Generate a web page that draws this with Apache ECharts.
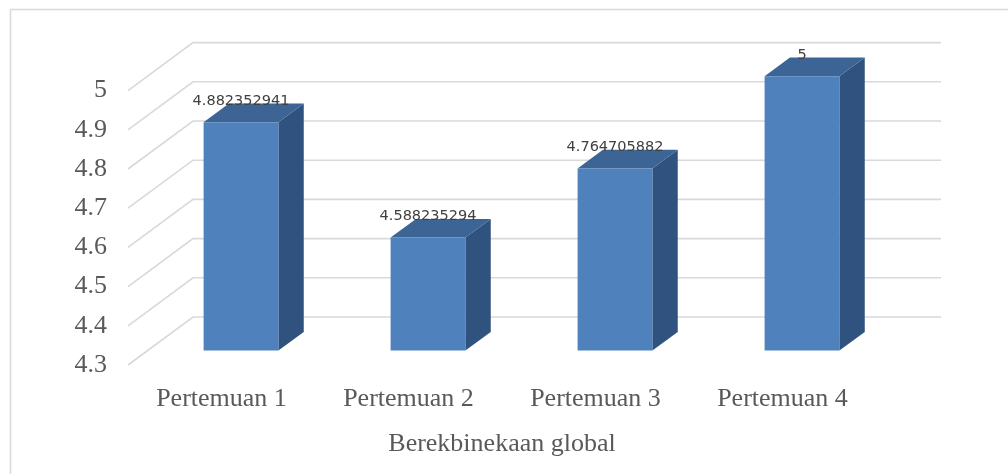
<!DOCTYPE html>
<html>
<head>
<meta charset="utf-8">
<title>Berekbinekaan global</title>
<script src="https://cdn.jsdelivr.net/npm/echarts@6/dist/echarts.min.js"></script>
<style>
  html, body { margin: 0; padding: 0; background: #ffffff; }
  #chart { width: 1008px; height: 474px; }
</style>
</head>
<body>
<div id="chart"></div>
<script>
// Meeting categories and their average scores
const categories = ['Pertemuan 1', 'Pertemuan 2', 'Pertemuan 3', 'Pertemuan 4'];
const scores = [4.882352941, 4.588235294, 4.764705882, 5];
// Value-axis ticks (also used for the 3D wall gridlines)
const tickValues = [4.3, 4.4, 4.5, 4.6, 4.7, 4.8, 4.9, 5];
const axisTitle = 'Berekbinekaan global';

// Oblique projection of the chart depth
const DEPTH_X = 65;
const DEPTH_Y = -48;
// Bars occupy this slice of the depth (0 = front, 1 = back wall)
const BAR_FRONT = 0.3;
const BAR_BACK = 0.69;

const serif = 'Liberation Serif';
const textGray = '#595959';

const chart = echarts.init(document.getElementById('chart'), null, { renderer: 'canvas' });

function renderGridLine(params, api) {
  const cs = params.coordSys;
  const y = api.coord([0, api.value(1)])[1];
  const x0 = cs.x;
  const x1 = cs.x + cs.width;
  return {
    type: 'polyline',
    shape: { points: [[x0, y], [x0 + DEPTH_X, y + DEPTH_Y], [x1 + DEPTH_X, y + DEPTH_Y]] },
    style: { stroke: '#d9d9d9', lineWidth: 1.6, fill: null }
  };
}

function renderBar(params, api) {
  const idx = api.value(0);
  const val = api.value(1);
  const top = api.coord([idx, val]);
  const base = api.coord([idx, tickValues[0]]);
  const w = api.size([1, 0])[0] * 0.4;
  const fx = BAR_FRONT * DEPTH_X;
  const fy = BAR_FRONT * DEPTH_Y;
  const ddx = (BAR_BACK - BAR_FRONT) * DEPTH_X;
  const ddy = (BAR_BACK - BAR_FRONT) * DEPTH_Y;
  const L = top[0] - w / 2 + fx;
  const R = L + w;
  const topY = top[1] + fy;
  const botY = base[1] + fy;
  return {
    type: 'group',
    children: [
      {
        type: 'polygon',
        shape: { points: [[R, topY], [R + ddx, topY + ddy], [R + ddx, botY + ddy], [R, botY]] },
        style: { fill: '#30527f' }
      },
      {
        type: 'polygon',
        shape: { points: [[L, topY], [L + ddx, topY + ddy], [R + ddx, topY + ddy], [R, topY]] },
        style: { fill: '#3c6494' }
      },
      {
        type: 'rect',
        shape: { x: L, y: topY, width: w, height: botY - topY },
        style: { fill: '#4f81bd' }
      },
      {
        type: 'text',
        style: {
          x: L + w / 2,
          y: topY - 21,
          text: String(scores[idx]),
          align: 'center',
          verticalAlign: 'middle',
          fill: '#404040',
          fontFamily: 'DejaVu Sans',
          fontSize: 14.5
        }
      }
    ]
  };
}

const option = {
  animation: false,
  backgroundColor: '#ffffff',
  graphic: [{
    type: 'rect',
    left: 8, top: 7,
    shape: { width: 1200, height: 700 },
    style: { fill: null, stroke: '#d9d9d9', lineWidth: 1.5 },
    silent: true
  }],
  grid: { left: 128, top: 90.6, width: 748, height: 274.4 },
  xAxis: {
    type: 'category',
    data: categories,
    axisLine: { show: false },
    axisTick: { show: false },
    splitLine: { show: false },
    axisLabel: { margin: 21, fontFamily: serif, fontSize: 26, color: textGray },
    name: axisTitle,
    nameLocation: 'middle',
    nameGap: 66,
    nameTextStyle: { fontFamily: serif, fontSize: 26, color: textGray }
  },
  yAxis: {
    type: 'value',
    min: tickValues[0],
    max: tickValues[tickValues.length - 1],
    interval: 0.1,
    axisLine: { show: false },
    axisTick: { show: false },
    splitLine: { show: false },
    axisLabel: {
      margin: 21,
      fontFamily: serif,
      fontSize: 26,
      color: textGray,
      formatter: v => String(Math.round(v * 10) / 10)
    }
  },
  series: [
    {
      type: 'custom',
      name: 'gridlines',
      silent: true,
      z: 1,
      renderItem: renderGridLine,
      data: tickValues.map(v => [0, v])
    },
    {
      type: 'custom',
      name: axisTitle,
      z: 2,
      renderItem: renderBar,
      data: scores.map((v, i) => [i, v])
    }
  ]
};

chart.setOption(option);
</script>
</body>
</html>
